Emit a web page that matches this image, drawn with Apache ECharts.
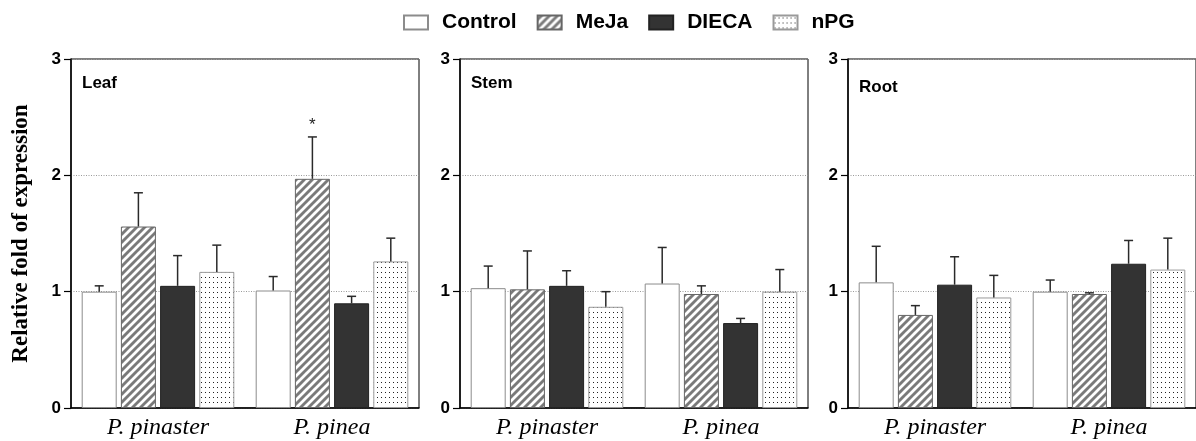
<!DOCTYPE html>
<html>
<head>
<meta charset="utf-8">
<script src="https://cdn.jsdelivr.net/npm/echarts@6/dist/echarts.min.js"></script>
<style>
html,body{margin:0;padding:0;background:#fff;}
#chart{width:1196px;height:441px;}
</style>
</head>
<body>
<div id="chart"></div>
<script>
// ---- data ----
const categories = ['P. pinaster', 'P. pinea'];
const treatments = ['Control', 'MeJa', 'DIECA', 'nPG'];
const tissues = ['Leaf', 'Stem', 'Root'];
const yTicks = [0, 1, 2, 3];

// means per treatment: [P. pinaster, P. pinea]
const leafMeans = [[1.00, 1.01], [1.56, 1.97], [1.05, 0.90], [1.17, 1.26]];
const leafSE    = [[0.05, 0.12], [0.29, 0.36], [0.26, 0.06], [0.23, 0.20]];
const leafSig   = [['', ''], ['', '*'], ['', ''], ['', '']];

const stemMeans = [[1.03, 1.07], [1.02, 0.98], [1.05, 0.73], [0.87, 1.00]];
const stemSE    = [[0.19, 0.31], [0.33, 0.07], [0.13, 0.04], [0.13, 0.19]];
const stemSig   = [['', ''], ['', ''], ['', ''], ['', '']];

const rootMeans = [[1.08, 1.00], [0.80, 0.98], [1.06, 1.24], [0.95, 1.19]];
const rootSE    = [[0.31, 0.10], [0.08, 0.01], [0.24, 0.20], [0.19, 0.27]];
const rootSig   = [['', ''], ['', ''], ['', ''], ['', '']];

const yAxisName = 'Relative fold of expression';

// ---- patterns ----
function stripeTile() {
  const s = 8, c = document.createElement('canvas');
  c.width = s; c.height = s;
  const g = c.getContext('2d');
  g.fillStyle = '#7a7a7a'; g.fillRect(0, 0, s, s);
  g.strokeStyle = '#ffffff'; g.lineWidth = 2.8;
  g.beginPath();
  g.moveTo(-1, s + 1); g.lineTo(s + 1, -1);
  g.moveTo(-1, 1); g.lineTo(1, -1);
  g.moveTo(s - 1, s + 1); g.lineTo(s + 1, s - 1);
  g.stroke();
  return c;
}
function dotTile() {
  const c = document.createElement('canvas');
  c.width = 4; c.height = 5;
  const g = c.getContext('2d');
  g.fillStyle = '#ffffff'; g.fillRect(0, 0, 4, 5);
  g.fillStyle = '#222222'; g.fillRect(1, 2, 1, 1);
  return c;
}
const styles = [
  { color: '#ffffff', borderColor: '#8c8c8c', borderWidth: 1 },
  { color: { image: stripeTile(), repeat: 'repeat' }, borderColor: '#666666', borderWidth: 1 },
  { color: '#333333', borderColor: '#222222', borderWidth: 1 },
  { color: { image: dotTile(), repeat: 'repeat' }, borderColor: '#9a9a9a', borderWidth: 1 }
];

const BAR_W = 35, BAR_GAP = 0.12;
const STRIDE = BAR_W * (1 + BAR_GAP);

const sets = [
  { means: leafMeans, se: leafSE, sig: leafSig },
  { means: stemMeans, se: stemSE, sig: stemSig },
  { means: rootMeans, se: rootSE, sig: rootSig }
];
const gridLefts = [71, 460, 848];
const titleTops = [75, 75, 79];
const gridWidth = 348;

const grids = [], xAxes = [], yAxes = [], series = [], titles = [];
const fontSans = '"Liberation Sans", Arial, sans-serif';
const fontSerif = '"Liberation Serif", "Times New Roman", serif';

sets.forEach((set, gi) => {
  grids.push({
    left: gridLefts[gi], width: gridWidth, top: 59, bottom: 33,
    show: true, borderColor: '#000', borderWidth: 1, backgroundColor: 'transparent'
  });
  xAxes.push({
    type: 'category', gridIndex: gi, data: categories,
    axisTick: { show: false },
    axisLine: { lineStyle: { color: '#000', width: 1.5 } },
    axisLabel: { color: '#000', fontFamily: fontSerif, fontStyle: 'italic', fontSize: 24, margin: 8 }
  });
  yAxes.push({
    type: 'value', gridIndex: gi, min: yTicks[0], max: yTicks[yTicks.length - 1], interval: 1,
    axisLine: { show: true, lineStyle: { color: '#000', width: 1.5 } },
    axisTick: { show: true, length: 7, lineStyle: { color: '#000', width: 1.2 } },
    axisLabel: { color: '#000', fontFamily: fontSans, fontWeight: 'bold', fontSize: 17, margin: 10 },
    splitLine: { show: true, lineStyle: { color: '#9a9a9a', type: [1, 1.5], width: 1 } },
    name: gi === 0 ? yAxisName : '',
    nameLocation: 'middle', nameGap: 38,
    nameTextStyle: { color: '#000', fontFamily: fontSerif, fontWeight: 'bold', fontSize: 23 }
  });
  titles.push({
    text: tissues[gi], left: gridLefts[gi] + 11, top: titleTops[gi], padding: 0,
    textStyle: { color: '#000', fontFamily: fontSans, fontWeight: 'bold', fontSize: 17 }
  });
  treatments.forEach((t, k) => {
    series.push({
      name: t, type: 'bar', xAxisIndex: gi, yAxisIndex: gi,
      barWidth: BAR_W, barGap: (BAR_GAP * 100) + '%',
      itemStyle: styles[k],
      emphasis: { disabled: true },
      data: set.means[k],
      z: 2
    });
  });
  treatments.forEach((t, k) => {
    series.push({
      name: 'err-' + gi + '-' + k, type: 'custom', xAxisIndex: gi, yAxisIndex: gi,
      data: categories.map((c, ci) => [ci, set.means[k][ci], set.means[k][ci] + set.se[k][ci]]),
      z: 5, silent: true,
      renderItem: function (params, api) {
        const ci = api.value(0);
        const p0 = api.coord([ci, api.value(1)]);
        const p1 = api.coord([ci, api.value(2)]);
        const x = p0[0] + (k - 1.5) * STRIDE;
        const cap = 4.5;
        const children = [
          { type: 'line', shape: { x1: x, y1: p0[1], x2: x, y2: p1[1] }, style: { stroke: '#2a2a2a', lineWidth: 1.5 } },
          { type: 'line', shape: { x1: x - cap, y1: p1[1], x2: x + cap, y2: p1[1] }, style: { stroke: '#2a2a2a', lineWidth: 1.5 } }
        ];
        const sig = set.sig[k][ci];
        if (sig) {
          children.push({ type: 'text', x: x, y: p1[1] - 12, style: { text: sig, fill: '#222', font: '17px ' + fontSans, align: 'center', verticalAlign: 'middle' } });
        }
        return { type: 'group', children: children };
      }
    });
  });
});

const chart = echarts.init(document.getElementById('chart'));
chart.setOption({
  animation: false,
  backgroundColor: '#fff',
  title: titles,
  legend: {
    data: treatments, left: 403, top: 12, padding: 0,
    itemWidth: 24, itemHeight: 14, itemGap: 20, icon: 'rect',
    selectedMode: false,
    textStyle: { color: '#000', fontFamily: fontSans, fontWeight: 'bold', fontSize: 21, padding: [0, 0, 0, 9] }
  },
  grid: grids, xAxis: xAxes, yAxis: yAxes, series: series
});
</script>
</body>
</html>
